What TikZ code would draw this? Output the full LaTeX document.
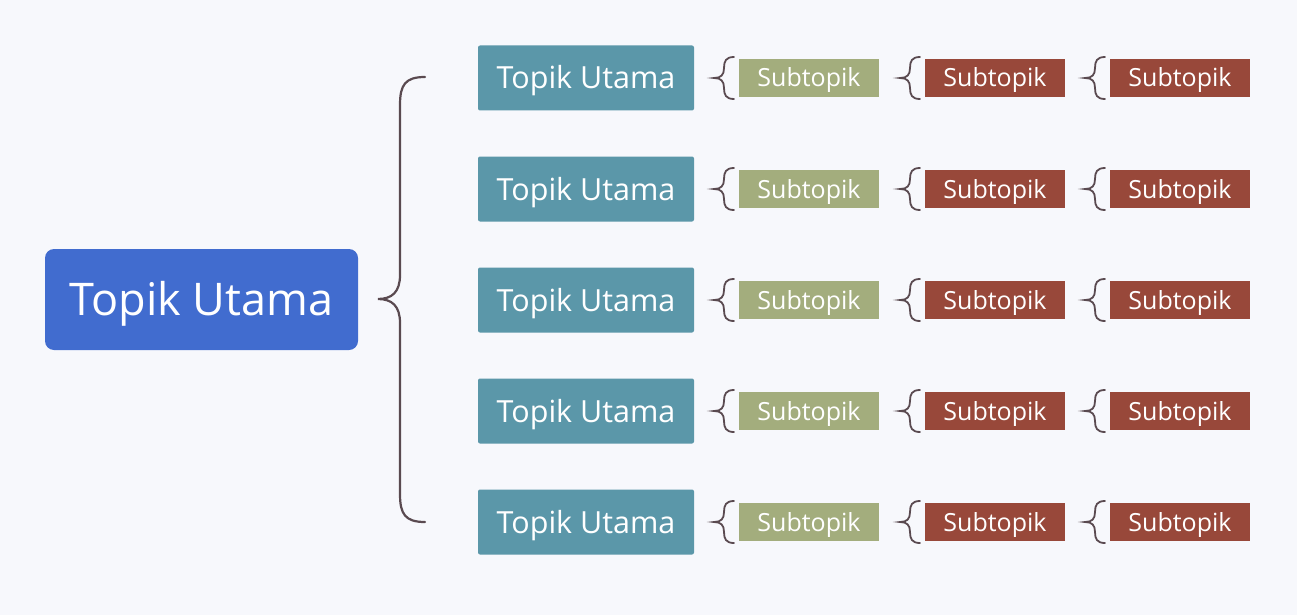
\documentclass[tikz,border=0pt]{standalone}
\usepackage{fontspec}
\setmainfont{Open Sans}
\definecolor{bg}{HTML}{F7F8FC}
\definecolor{rootc}{HTML}{416CCF}
\definecolor{mainc}{HTML}{5B97A9}
\definecolor{sub1}{HTML}{A3AD7D}
\definecolor{sub2}{HTML}{98483A}
\definecolor{brc}{HTML}{5A4A50}
\begin{document}
\begin{tikzpicture}[x=1pt,y=-1pt,
  rootbox/.style={fill=rootc,rounded corners=9pt,minimum width=313pt,minimum height=101pt,text=white,font=\fontsize{45}{48}\selectfont,inner sep=0pt,text height=32pt,text depth=0pt},
  mainbox/.style={fill=mainc,rounded corners=2pt,minimum width=216pt,minimum height=65pt,text=white,font=\fontsize{30.5}{33}\selectfont,inner sep=0pt,text height=22pt,text depth=0pt},
  subbox/.style={minimum width=140pt,minimum height=38pt,text=white,font=\fontsize{25}{28}\selectfont,inner sep=0pt,text height=18pt,text depth=0pt},
  brline/.style={draw=brc,line width=2.2pt,line cap=round}]
\fill[bg] (0,0) rectangle (1297,615);
\useasboundingbox (0,0) rectangle (1297,615);
\node[rootbox] (root) at (201.5,299.5) {Topik Utama};
\coordinate (bt) at (425,77);
\coordinate (bb) at (425,522);
\draw[brline] (bt) .. controls (405,77) and (400,85) .. (400,105) -- (400,275) .. controls (400,292) and (392,299) .. (378,299)
  .. controls (392,299) and (400,306) .. (400,323) -- (400,494) .. controls (400,514) and (405,522) .. (bb);
\foreach \i/\y in {1/78,2/189,3/300,4/411,5/522}{
  \node[mainbox] (m\i) at (586,\y) {Topik Utama};
  \node[subbox,fill=sub1] (a\i) at (809,\y) {Subtopik};
  \node[subbox,fill=sub2] (b\i) at (995,\y) {Subtopik};
  \node[subbox,fill=sub2] (c\i) at (1180,\y) {Subtopik};
  \foreach \bx in {734,920,1105}{
    \draw[brline,line width=1.8pt] (\bx,\y-21) .. controls (\bx-8,\y-21) and (\bx-10,\y-17) .. (\bx-10,\y-10)
      .. controls (\bx-10,\y-3) and (\bx-13,\y) .. (\bx-20,\y)
      .. controls (\bx-13,\y) and (\bx-10,\y+3) .. (\bx-10,\y+10)
      .. controls (\bx-10,\y+17) and (\bx-8,\y+21) .. (\bx,\y+21);
  }
}
\end{tikzpicture}
\end{document}
